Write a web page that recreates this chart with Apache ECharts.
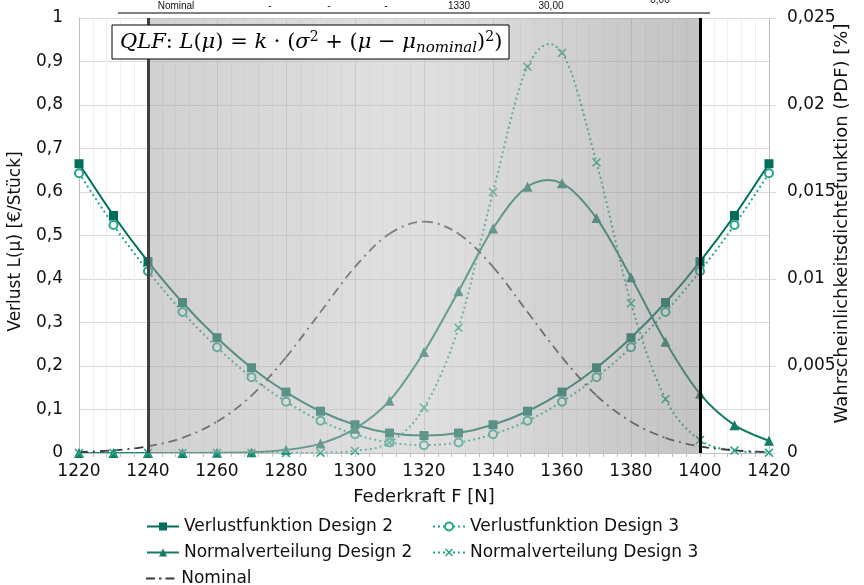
<!DOCTYPE html>
<html>
<head>
<meta charset="utf-8">
<script src="https://cdn.jsdelivr.net/npm/echarts@6/dist/echarts.min.js"></script>
<style>html,body{margin:0;padding:0;background:#fff}#c{width:864px;height:585px}</style>
</head>
<body>
<div id="c"></div>
<script>
const forces = [1220,1230,1240,1250,1260,1270,1280,1290,1300,1310,1320,1330,1340,1350,1360,1370,1380,1390,1400,1410,1420];
const lossD2 = [0.665,0.546,0.440,0.346,0.265,0.196,0.140,0.096,0.065,0.046,0.040,0.046,0.065,0.096,0.140,0.196,0.265,0.346,0.440,0.546,0.665];
const lossD3 = [0.643,0.524,0.418,0.324,0.243,0.174,0.118,0.074,0.043,0.024,0.018,0.024,0.043,0.074,0.118,0.174,0.243,0.324,0.418,0.524,0.643];
const pdfD2 = [0,0,0.0000005,0.000003,0.000012,0.00005,0.00018,0.00054,0.0014,0.0030,0.0058,0.0093,0.0129,0.0153,0.0155,0.0135,0.0101,0.0064,0.0034,0.0016,0.0007];
const pdfD3 = [0,0,0,0,0,0,0,0.00001,0.00012,0.0006,0.0026,0.0072,0.0150,0.0222,0.0230,0.0167,0.0086,0.0031,0.00075,0.00014,0.00002];
const pdfNominal = [0.00005,0.00015,0.00038,0.00087,0.0018,0.0033,0.0055,0.0081,0.0107,0.0126,0.0133,0.0126,0.0107,0.0081,0.0055,0.0033,0.0018,0.00087,0.00038,0.00015,0.00005];
const toleranceRange = [1240, 1400];
const headerTexts = ['Nominal','-','-','-','1330','30,00'];

const names = ['Verlustfunktion Design 2','Verlustfunktion Design 3','Normalverteilung Design 2','Normalverteilung Design 3','Nominal'];
const pair = arr => forces.map((f,i)=>[f,arr[i]]);
const comma = v => String(Number(v.toFixed(4))).replace('.', ',');

const C2 = '#006e58', C2n = '#137b66', C3 = '#22a58a', CN = '#3a3a3a';
const FONT = 'DejaVu Sans';
const xPath = 'path://M0,1.2L1.2,0L5,3.8L8.8,0L10,1.2L6.2,5L10,8.8L8.8,10L5,6.2L1.2,10L0,8.8L3.8,5Z';
const dashDotIcon = 'path://M0,4h9v2h-9z M13,4h2.5v2h-2.5z M19.5,4h9v2h-9z M0,0h0.01v10h-0.01z M28.49,0h0.01v10h-0.01z';

// Excel-like smoothed curve (Catmull-Rom Bezier) drawn through the library's coordinate mapping
function smoothRender(arr, style){
  const n = forces.length;
  const cl = k => Math.max(0, Math.min(n-1, k));
  return function(params, api){
    const i = params.dataIndex;
    if (i >= n-1) return null;
    const P = k => api.coord([forces[cl(k)], arr[cl(k)]]);
    const p0=P(i-1), p1=P(i), p2=P(i+1), p3=P(i+2), t=1/6;
    return {type:'bezierCurve', shape:{
      x1:p1[0], y1:p1[1], x2:p2[0], y2:p2[1],
      cpx1:p1[0]+(p2[0]-p0[0])*t, cpy1:p1[1]+(p2[1]-p0[1])*t,
      cpx2:p2[0]-(p3[0]-p1[0])*t, cpy2:p2[1]-(p3[1]-p1[1])*t},
      style:Object.assign({fill:null}, style)};
  };
}
function curve(arr, yIdx, style){
  return {type:'custom', yAxisIndex:yIdx, data:pair(arr), encode:{x:0,y:1}, silent:true, clip:true, z:2,
          renderItem:smoothRender(arr, style)};
}

const chart = echarts.init(document.getElementById('c'));
const legendPos = [[141,513],[427,513],[141,539],[427,539],[141,565]];
const headerX = [176,270,329,386,459,551];

chart.setOption({
  animation:false,
  grid:{left:79,right:95,top:18,bottom:132,outerBoundsMode:'none',containLabel:false},
  textStyle:{fontFamily:FONT},
  legend: names.map((n,i)=>({
    data:[i===4 ? {name:n, icon:dashDotIcon} : n], left:legendPos[i][0], top:legendPos[i][1], itemWidth:32, itemHeight:10, itemGap:5,
    lineStyle:{opacity:1}, textStyle:{fontFamily:FONT,fontSize:17,color:'#111'}, selectedMode:false
  })),
  xAxis:{
    type:'value', min:1220, max:1420, interval:20,
    name:'Federkraft F [N]', nameLocation:'middle', nameGap:35, nameMoveOverlap:false,
    nameTextStyle:{fontFamily:FONT,fontSize:18,color:'#111'},
    axisLine:{show:true,lineStyle:{color:'#bfbfbf'}},
    axisTick:{show:true,length:4,lineStyle:{color:'#bfbfbf'}},
    minorTick:{show:true,splitNumber:5,length:4,lineStyle:{color:'#bfbfbf'}},
    axisLabel:{fontFamily:FONT,fontSize:17,color:'#111',margin:10,formatter:v=>String(v)},
    splitLine:{show:true,lineStyle:{color:'#d9d9d9'}},
    minorSplitLine:{show:true,lineStyle:{color:'#eeeeee'}}
  },
  yAxis:[{
    type:'value', min:0, max:1, interval:0.1,
    name:'Verlust L(µ) [€/Stück]', nameLocation:'middle', nameGap:55, nameRotate:90, nameMoveOverlap:false,
    nameTextStyle:{fontFamily:FONT,fontSize:17,color:'#111',padding:[0,12,0,0]},
    axisLine:{show:true,lineStyle:{color:'#bfbfbf'}},
    axisTick:{show:false},
    axisLabel:{fontFamily:FONT,fontSize:17,color:'#111',margin:16,formatter:comma},
    splitLine:{show:true,lineStyle:{color:'#d9d9d9'}}
  },{
    type:'value', min:0, max:0.025, interval:0.005, position:'right',
    name:'Wahrscheinlichkeitsdichtefunktion (PDF) [%]', nameLocation:'middle', nameGap:64, nameRotate:90, nameMoveOverlap:false,
    nameTextStyle:{fontFamily:FONT,fontSize:18,color:'#111',padding:[0,0,0,24]},
    axisLine:{show:true,lineStyle:{color:'#bfbfbf'}},
    axisTick:{show:true,inside:false,length:7,lineStyle:{color:'#d9d9d9'}},
    axisLabel:{fontFamily:FONT,fontSize:17,color:'#111',margin:18,formatter:comma},
    splitLine:{show:false}
  }],
  series:[
    curve(lossD2, 0, {stroke:C2, lineWidth:2}),
    curve(lossD3, 0, {stroke:C3, lineWidth:2, lineDash:[2,3]}),
    curve(pdfD2, 1, {stroke:C2n, lineWidth:2}),
    curve(pdfD3, 1, {stroke:C3, lineWidth:2, lineDash:[2,3]}),
    curve(pdfNominal, 1, {stroke:CN, lineWidth:1.8, lineDash:[9,5,2,5]}),
    {name:names[0], type:'line', data:pair(lossD2), symbol:'rect', symbolSize:9,
     itemStyle:{color:C2}, lineStyle:{color:C2,width:2,opacity:0}, z:3},
    {name:names[1], type:'line', data:pair(lossD3), symbol:'emptyCircle', symbolSize:8,
     itemStyle:{color:C3,borderColor:C3,borderWidth:1.3}, lineStyle:{color:C3,width:2,type:[2,3],opacity:0}, z:3},
    {name:names[2], type:'line', yAxisIndex:1, data:pair(pdfD2), symbol:'triangle', symbolSize:10,
     itemStyle:{color:C2n}, lineStyle:{color:C2n,width:2,opacity:0}, z:3},
    {name:names[3], type:'line', yAxisIndex:1, data:pair(pdfD3), symbol:xPath, symbolSize:9,
     itemStyle:{color:C3}, lineStyle:{color:C3,width:2,type:[2,3],opacity:0}, z:3},
    {name:names[4], type:'line', yAxisIndex:1, data:pair(pdfNominal), symbol:'none',
     lineStyle:{color:CN,width:1.8,type:[9,5,2,5],opacity:0}, itemStyle:{color:CN}, z:3},
    {name:'range', type:'line', data:[], silent:true, z:10,
     markArea:{silent:true, z:10, itemStyle:{color:{type:'linear',x:0,y:0,x2:1,y2:0,colorStops:[
        {offset:0,color:'rgba(163,163,163,0.5)'},
        {offset:0.42,color:'rgba(191,191,191,0.5)'},
        {offset:0.55,color:'rgba(189,189,189,0.5)'},
        {offset:0.85,color:'rgba(151,151,151,0.5)'},
        {offset:1,color:'rgba(137,137,137,0.5)'}]}},
        data:[[{xAxis:toleranceRange[0]},{xAxis:toleranceRange[1]}]]},
     markLine:{silent:true, z:11, symbol:'none', label:{show:false},
        data:[{xAxis:toleranceRange[0],lineStyle:{color:'#404040',width:3,type:'solid'}},
              {xAxis:toleranceRange[1],lineStyle:{color:'#000',width:3,type:'solid'}}]}
    }
  ],
  graphic:[
    {type:'line', shape:{x1:118,y1:13,x2:710,y2:13}, style:{stroke:'#000',lineWidth:1}, z:100},
    ...headerTexts.map((t,i)=>({type:'text', x:headerX[i], y:6, z:100,
       style:{text:t, fill:'#111', font:'10px "Liberation Sans"', align:'center', verticalAlign:'middle'}})),
    {type:'text', x:660, y:5, z:100, style:{text:'0,00', fill:'#111', font:'10px "Liberation Sans"', align:'center', verticalAlign:'bottom'}},
    {type:'rect', shape:{x:112,y:25,width:397,height:34}, style:{fill:'#fff',stroke:'#000',lineWidth:1}, z:100},
    {type:'text', x:120, y:43, z:101, style:{
      text:'{i|QLF}{n|: }{i|L}{n|(}{i|μ}{n|) = }{i|k}{n| · (}{i|σ}{sup|2}{n| + (}{i|μ}{n| − }{i|μ}{sub|nominal}{n|)}{sup|2}{n|)}',
      verticalAlign:'middle',
      rich:{
        i:{fontFamily:'DejaVu Serif',fontStyle:'italic',fontSize:21,lineHeight:26,fill:'#000'},
        n:{fontFamily:'DejaVu Serif',fontSize:21,lineHeight:26,fill:'#000'},
        sup:{fontFamily:'DejaVu Serif',fontSize:14,lineHeight:20,verticalAlign:'top',fill:'#000'},
        sub:{fontFamily:'DejaVu Serif',fontStyle:'italic',fontSize:15,lineHeight:17,verticalAlign:'bottom',fill:'#000'}
      }}}
  ]
});
</script>
</body>
</html>
